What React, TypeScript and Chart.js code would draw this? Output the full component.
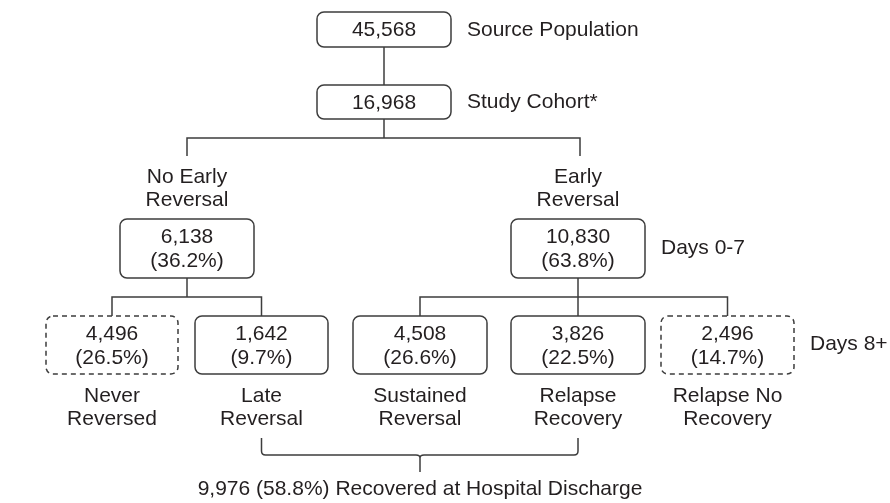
import React, { useEffect, useRef } from "react";
import { Chart, registerables } from "chart.js";

Chart.register(...registerables);

// ---- data ----
const nodeCounts = [45568, 16968, 6138, 10830, 4496, 1642, 4508, 3826, 2496];
const nodePercents: (number | null)[] = [null, null, 36.2, 63.8, 26.5, 9.7, 26.6, 22.5, 14.7];
const nodeCaptions: string[][] = [
  [],
  [],
  ["No Early", "Reversal"],
  ["Early", "Reversal"],
  ["Never", "Reversed"],
  ["Late", "Reversal"],
  ["Sustained", "Reversal"],
  ["Relapse", "Recovery"],
  ["Relapse No", "Recovery"],
];
const nodeDashed = [false, false, false, false, true, false, false, false, true];
const sideLabels = ["Source Population", "Study Cohort*", "Days 0-7", "Days 8+"];
const recoveredCount = 9976;
const recoveredPercent = 58.8;
const recoveredLabel = "Recovered at Hospital Discharge";

// ---- layout (data units, 0..890 x 0..503) ----
const nodeX = [384, 384, 187, 578, 112, 261.5, 420, 578, 727.5];
const nodeTop = [12, 85, 219, 219, 316, 316, 316, 316, 316];
const nodeW = [134, 134, 134, 134, 132, 133, 134, 134, 133];
const nodeH = [35, 34, 59, 59, 58, 58, 58, 58, 58];
const sideX = [467, 467, 661, 810];
const sideY = [30, 102, 248, 344];

const fmt = (n: number) => n.toLocaleString("en-US");

export default function App() {
  const ref = useRef<HTMLCanvasElement | null>(null);
  useEffect(() => {
    if (!ref.current) return;
    const FONT = '21px "Liberation Sans", Arial, Helvetica, sans-serif';
    const INK = "#231f20";
    const LINE = "#3d3d3d";

    const flowPlugin = {
      id: "flow",
      afterDatasetsDraw(chart: any) {
        const ctx = chart.ctx as CanvasRenderingContext2D;
        const xs = chart.scales.x;
        const ys = chart.scales.y;
        const px = (v: number) => xs.getPixelForValue(v);
        const py = (v: number) => ys.getPixelForValue(v);
        ctx.save();
        ctx.strokeStyle = LINE;
        ctx.lineWidth = 1.5;
        ctx.fillStyle = INK;
        ctx.font = FONT;
        ctx.textBaseline = "middle";

        const seg = (pts: number[][]) => {
          ctx.beginPath();
          ctx.moveTo(px(pts[0][0]), py(pts[0][1]));
          for (let i = 1; i < pts.length; i++) ctx.lineTo(px(pts[i][0]), py(pts[i][1]));
          ctx.stroke();
        };

        // connectors
        const b = (i: number) => nodeTop[i] + nodeH[i];
        seg([[nodeX[0], b(0)], [nodeX[1], nodeTop[1]]]);
        seg([[nodeX[1], b(1)], [nodeX[1], 138]]);
        seg([[nodeX[2], 156], [nodeX[2], 138], [580, 138], [580, 156]]);
        seg([[nodeX[2], b(2)], [nodeX[2], 297]]);
        seg([[nodeX[4], nodeTop[4]], [nodeX[4], 297], [nodeX[5], 297], [nodeX[5], nodeTop[5]]]);
        seg([[nodeX[3], b(3)], [nodeX[3], nodeTop[7]]]);
        seg([[nodeX[6], nodeTop[6]], [nodeX[6], 297], [nodeX[8], 297], [nodeX[8], nodeTop[8]]]);

        // boxes
        for (let i = 0; i < nodeCounts.length; i++) {
          const x0 = px(nodeX[i] - nodeW[i] / 2);
          const x1 = px(nodeX[i] + nodeW[i] / 2);
          const y0 = py(nodeTop[i]);
          const y1 = py(nodeTop[i] + nodeH[i]);
          ctx.setLineDash(nodeDashed[i] ? [5, 4] : []);
          ctx.beginPath();
          (ctx as any).roundRect(x0, y0, x1 - x0, y1 - y0, 7);
          ctx.stroke();
          ctx.setLineDash([]);
          ctx.textAlign = "center";
          const cx = px(nodeX[i]);
          if (nodePercents[i] === null) {
            ctx.fillText(fmt(nodeCounts[i]), cx, (y0 + y1) / 2 + 1);
          } else {
            ctx.fillText(fmt(nodeCounts[i]), cx, py(nodeTop[i] + 18));
            ctx.fillText("(" + nodePercents[i]!.toFixed(1) + "%)", cx, py(nodeTop[i] + 42));
          }
          const cap = nodeCaptions[i];
          if (cap.length) {
            const base = i < 4 ? 177 : 396;
            cap.forEach((t, k) => ctx.fillText(t, cx, py(base + k * 23)));
          }
        }

        // side labels
        ctx.textAlign = "left";
        sideLabels.forEach((t, k) => ctx.fillText(t, px(sideX[k]), py(sideY[k])));

        // bracket
        const L = nodeX[5], R = nodeX[7], M = nodeX[6];
        const top = 438, hy = 455, r = 4;
        ctx.beginPath();
        ctx.moveTo(px(L), py(top));
        ctx.lineTo(px(L), py(hy - r));
        ctx.quadraticCurveTo(px(L), py(hy), px(L + r), py(hy));
        ctx.lineTo(px(M - 4), py(hy));
        ctx.quadraticCurveTo(px(M), py(hy), px(M), py(hy + 3));
        ctx.quadraticCurveTo(px(M), py(hy), px(M + 4), py(hy));
        ctx.lineTo(px(R - r), py(hy));
        ctx.quadraticCurveTo(px(R), py(hy), px(R), py(hy - r));
        ctx.lineTo(px(R), py(top));
        ctx.stroke();
        seg([[M, hy + 3], [M, 472]]);

        ctx.textAlign = "center";
        ctx.fillText(
          fmt(recoveredCount) + " (" + recoveredPercent.toFixed(1) + "%) " + recoveredLabel,
          px(M),
          py(489)
        );
        ctx.restore();
      },
    };

    const chart = new Chart(ref.current, {
      type: "scatter",
      data: {
        datasets: [
          {
            data: nodeX.map((x, i) => ({ x, y: nodeTop[i] + nodeH[i] / 2 })),
            pointRadius: 0,
            pointHoverRadius: 0,
          },
        ],
      },
      options: {
        animation: false,
        responsive: true,
        maintainAspectRatio: false,
        layout: { padding: 0 },
        events: [],
        scales: {
          x: { type: "linear", min: 0, max: 890, display: false },
          y: { type: "linear", min: 0, max: 503, reverse: true, display: false },
        },
        plugins: { legend: { display: false }, tooltip: { enabled: false } },
      },
      plugins: [flowPlugin],
    });
    return () => chart.destroy();
  }, []);

  return (
    <div style={{ position: "fixed", left: 0, top: 0, width: 890, height: 503, background: "#fff" }}>
      <canvas ref={ref} />
    </div>
  );
}
